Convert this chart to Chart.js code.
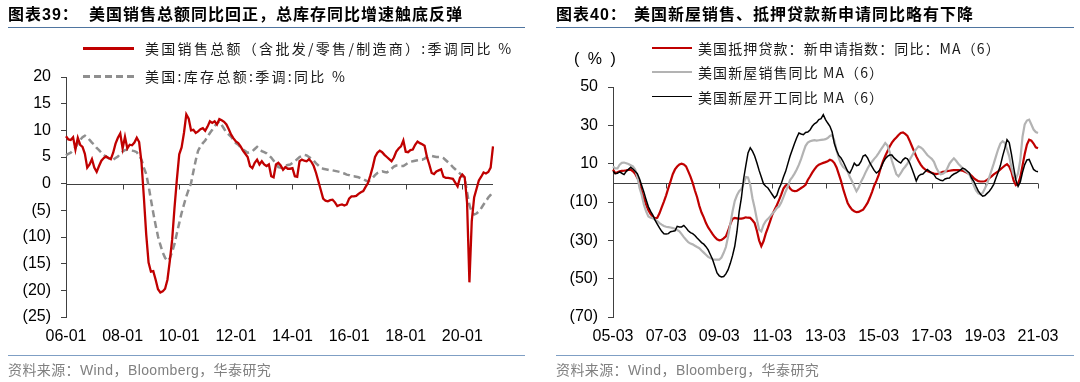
<!DOCTYPE html>
<html><head><meta charset="utf-8">
<script src="https://cdn.jsdelivr.net/npm/chart.js@4.4.0/dist/chart.umd.min.js"></script>
<style>
html,body{margin:0;padding:0;background:#fff;}
#wrap{position:relative;width:1080px;height:382px;overflow:hidden;background:#fff;}
canvas{position:absolute;top:0;}
.t{position:absolute;white-space:nowrap;font-family:"Liberation Sans","Noto Sans CJK SC",sans-serif;}
.title{font-size:16px;font-weight:bold;letter-spacing:1px;line-height:20px;color:#000;}
.rule{position:absolute;height:1px;}
.src{font-size:14px;line-height:18px;color:#808080;letter-spacing:0.4px;}
.lg{font-family:"Noto Sans CJK SC",sans-serif;font-size:14px;line-height:20px;color:#1a1a1a;}
.sw{position:absolute;}
</style></head>
<body><div id="wrap">
<canvas id="c1" width="540" height="382" style="left:0"></canvas>
<canvas id="c2" width="540" height="382" style="left:540px"></canvas>
<div id="overlay"></div>
</div>
<script>
// ---------------- DATA ----------------
const leftTickLabels = ['06-01','08-01','10-01','12-01','14-01','16-01','18-01','20-01'];
const rightTickLabels = ['05-03','07-03','09-03','11-03','13-03','15-03','17-03','19-03','21-03'];

// 美国销售总额（含批发/零售/制造商）:季调同比 %  (monthly, 2006-01 .. 2021-02)
const leftSales = [
 8.9,8.3,8.2,8.7,6.4,8.6,7.3,6.9,5.6,3.0,3.6,4.6,
 3.0,2.2,3.3,4.3,4.8,5.1,4.8,4.6,5.8,7.5,8.6,9.4,
 6.6,8.8,6.6,7.3,7.2,7.7,8.6,7.8,4.0,-2.5,-9.5,-14.8,
 -16.5,-16.4,-18.0,-19.8,-20.4,-20.2,-19.7,-18.0,-14.5,-10.5,-4.5,0.8,
 5.5,6.8,9.5,13.0,12.2,10.0,10.1,9.5,9.8,10.2,10.4,9.9,
 10.7,11.7,11.4,11.7,11.1,12.1,11.9,11.6,11.1,10.2,9.2,8.5,
 7.9,7.6,7.0,6.2,5.6,5.0,3.3,2.9,3.9,4.5,3.6,4.2,
 3.6,3.3,3.6,1.4,1.2,3.6,3.9,3.4,2.6,3.1,2.8,2.8,
 2.9,1.4,1.3,4.2,4.5,4.3,4.2,4.6,4.1,3.3,2.0,0.4,
 -1.2,-2.8,-3.2,-3.3,-3.1,-3.0,-3.5,-4.2,-4.0,-3.9,-4.1,-3.9,
 -2.8,-2.4,-2.4,-2.3,-1.9,-1.6,-1.4,-0.6,0.1,1.5,3.1,5.0,
 5.8,6.2,5.9,5.4,5.0,4.6,4.2,4.9,6.0,6.6,7.0,8.1,
 6.0,5.9,6.3,6.4,7.3,7.9,7.6,7.4,7.1,5.0,3.6,2.0,
 1.8,2.3,2.5,2.7,1.3,1.1,1.1,1.0,0.9,0.2,-0.5,1.1,
 1.7,1.2,-3.5,-18.5,-7.0,-2.6,-1.0,0.6,1.3,2.1,1.9,2.2,
 3.0,7.0
];
// 美国:库存总额:季调:同比 %
const leftInventory = [
 5.3,5.6,5.8,6.3,6.8,7.5,8.2,8.7,9.0,8.7,8.2,7.7,
 7.3,6.7,6.3,5.8,5.4,5.0,4.8,4.6,4.5,4.8,5.1,5.6,
 6.0,6.3,6.4,6.3,6.2,6.1,5.9,5.3,4.5,3.0,1.8,-0.4,
 -3.0,-5.5,-7.8,-9.9,-11.5,-12.9,-13.9,-14.5,-14.0,-12.8,-11.3,-9.3,
 -7.4,-5.5,-3.9,-2.4,-1.1,0.1,2.3,4.4,6.2,7.0,7.6,8.1,
 8.8,9.5,10.1,10.8,11.3,11.7,11.0,10.3,9.6,9.2,8.8,8.2,
 7.6,7.3,6.8,6.4,6.1,5.8,5.9,6.1,6.5,6.9,6.5,6.1,
 5.9,5.7,5.3,4.9,4.3,3.9,3.1,3.0,3.2,3.4,3.5,3.6,
 3.9,4.2,4.6,5.0,5.2,5.4,5.3,5.0,4.7,4.3,3.8,3.4,
 3.0,2.8,2.7,2.6,2.5,2.5,2.4,2.3,2.2,2.0,1.9,1.7,
 1.6,1.4,1.4,1.3,1.2,1.0,0.9,0.6,0.4,0.7,1.1,1.6,
 2.0,2.2,2.3,2.2,2.1,2.4,2.8,3.2,3.4,3.4,3.3,3.3,
 3.6,3.9,4.1,4.2,4.3,4.4,4.5,4.5,4.7,5.0,5.1,5.2,
 5.1,5.0,5.0,5.0,4.8,4.4,4.0,3.6,3.1,2.7,2.3,1.9,
 1.5,1.0,-1.6,-4.0,-5.3,-5.8,-5.6,-5.2,-4.6,-3.9,-3.3,-2.6,
 -2.1,-1.6
];

// Right chart (monthly, 2005-03 .. 2021-03)
const rightMortgage = [
 6.9,5.1,5.5,6.0,6.2,6.3,6.5,6.8,6.9,6.0,4.8,2.5,
 0.8,-4.5,-8.0,-11.5,-14.3,-16.3,-17.6,-18.5,-18.2,-15.9,-12.8,-9.8,
 -6.5,-2.8,0.8,4.5,7.0,8.5,9.6,10.0,9.6,8.6,6.0,3.2,
 0.0,-4.0,-7.5,-12.0,-15.5,-18.0,-21.0,-23.3,-25.0,-26.8,-28.3,-29.5,
 -30.0,-29.8,-29.0,-27.9,-25.0,-21.5,-18.8,-18.3,-18.5,-18.7,-18.7,-18.4,
 -18.0,-18.2,-18.3,-19.5,-21.0,-25.0,-30.0,-33.0,-30.5,-26.5,-23.4,-20.0,
 -16.5,-14.0,-11.7,-9.0,-6.2,-3.0,-1.4,-1.0,-3.0,-4.0,-4.3,-4.2,
 -3.5,-2.7,-2.0,-1.0,1.5,3.3,5.3,7.0,8.5,9.5,10.0,10.4,
 10.8,11.3,12.0,11.6,10.3,8.0,4.5,1.0,-3.3,-7.0,-10.5,-12.5,
 -14.0,-14.8,-15.3,-15.2,-14.6,-14.0,-12.3,-10.5,-7.8,-4.8,-1.5,1.0,
 4.0,8.0,11.3,14.0,16.5,19.0,21.0,22.5,23.7,25.0,26.0,26.3,
 25.5,24.5,22.0,19.2,16.5,13.8,11.5,9.5,8.0,7.0,6.2,5.7,
 5.3,4.9,4.6,4.9,5.3,5.7,5.9,6.1,6.3,6.5,6.6,6.7,
 6.6,6.5,6.3,5.8,5.2,4.6,3.6,2.5,1.6,0.9,0.7,0.7,
 0.8,1.5,2.4,3.4,4.4,5.2,6.0,7.0,8.0,9.0,9.7,8.5,
 5.8,1.2,-1.2,-0.5,3.0,9.0,15.0,20.0,22.5,22.0,20.5,18.5,18.0
];
const rightNewHomeSales = [
 8.6,7.5,7.5,9.5,10.4,10.6,10.2,9.8,9.2,8.6,7.0,3.0,
 -2.7,-6.5,-11.5,-15.0,-17.5,-18.2,-18.5,-19.2,-20.0,-21.0,-21.8,-22.5,
 -22.9,-23.1,-23.3,-23.6,-24.0,-24.6,-25.3,-26.8,-28.3,-29.7,-31.0,-31.7,
 -32.1,-32.8,-33.5,-34.1,-35.3,-36.4,-37.5,-38.6,-39.3,-39.9,-40.1,-40.1,
 -40.1,-39.0,-36.5,-33.5,-28.0,-21.5,-15.0,-9.5,-6.5,-4.4,-3.2,-0.5,
 3.0,2.8,-1.0,-8.0,-13.1,-19.0,-24.4,-25.3,-22.0,-20.0,-18.8,-17.5,
 -16.0,-14.9,-13.2,-12.3,-10.3,-7.5,-4.5,-1.8,1.5,3.0,4.8,7.0,
 9.5,12.5,16.0,19.3,21.0,21.7,22.0,22.3,22.0,22.2,22.4,22.5,
 22.8,23.4,24.5,25.0,22.0,17.0,13.0,10.0,8.2,7.2,6.0,3.0,
 0.8,-2.0,-4.4,-2.5,0.5,2.6,5.2,7.5,9.5,11.0,12.5,13.8,
 15.5,17.3,19.0,20.8,19.5,16.0,11.5,8.0,4.5,3.4,5.0,7.0,
 8.4,10.0,12.0,14.0,16.0,17.6,19.0,18.5,17.5,16.0,14.5,13.5,
 12.5,11.0,8.0,5.8,4.5,4.8,5.5,7.5,10.0,11.5,12.8,11.5,
 10.0,8.8,7.5,6.5,5.5,4.4,2.0,-1.5,-4.0,-5.5,-6.0,-5.3,
 -3.0,-0.5,3.0,6.5,10.0,13.8,17.5,20.5,21.7,20.8,17.5,13.8,
 8.0,4.0,2.0,5.0,12.0,24.0,30.5,32.5,33.0,30.4,27.8,26.5,26.0
];
const rightHousingStarts = [
 6.0,4.8,5.0,5.7,5.0,4.3,6.0,7.0,8.1,7.2,6.0,4.8,
 2.0,-1.5,-5.0,-9.0,-12.5,-14.9,-16.8,-19.5,-21.5,-23.5,-25.3,-26.6,
 -26.7,-26.5,-25.5,-25.3,-25.0,-22.7,-23.0,-23.0,-22.2,-23.5,-25.0,-26.0,
 -26.5,-27.5,-28.8,-30.0,-31.2,-32.0,-33.3,-35.0,-37.5,-40.0,-43.5,-47.0,
 -48.5,-49.1,-48.9,-47.5,-45.3,-42.0,-38.0,-33.1,-25.5,-15.0,-7.9,2.0,
 9.0,15.6,18.3,16.5,14.0,10.5,6.5,3.0,-0.5,-1.8,-2.7,-4.5,
 -6.2,-7.9,-6.5,-3.0,-0.5,3.0,6.0,10.0,14.0,17.3,20.5,23.5,
 26.0,25.5,25.1,26.3,26.5,27.5,29.5,30.8,31.5,33.0,33.5,35.6,
 33.0,31.2,29.5,26.5,20.5,17.0,14.3,13.0,11.0,8.5,6.0,5.1,
 7.5,10.3,9.0,9.3,11.0,14.0,14.5,13.0,10.5,8.5,6.5,5.1,
 6.0,7.7,10.5,12.5,13.8,14.5,14.5,13.0,12.0,11.0,10.3,12.0,
 13.0,12.5,10.5,7.5,4.3,1.0,3.5,4.4,4.6,5.8,6.9,6.0,
 5.0,4.3,2.5,1.9,1.3,1.1,2.0,2.4,2.5,3.8,4.6,5.1,
 5.8,6.8,7.7,7.2,6.2,5.1,2.5,0.8,-1.8,-4.2,-5.8,-7.0,
 -6.6,-5.5,-4.4,-2.8,-0.8,2.5,5.5,9.0,13.8,18.0,22.5,21.0,
 15.0,8.0,1.5,-1.8,0.5,5.5,9.5,12.0,12.2,9.6,7.0,6.1,5.8
];

const leftNames = ['美国销售总额（含批发/零售/制造商）:季调同比 %','美国:库存总额:季调:同比 %'];
const rightNames = ['美国抵押贷款：新申请指数：同比：MA（6）','美国新屋销售同比 MA（6）','美国新屋开工同比 MA（6）'];

function monthLabels(y0, m0, n){
  const out=[];
  for(let i=0;i<n;i++){
    const t=y0*12+(m0-1)+i;
    const y=Math.floor(t/12)%100, m=t%12+1;
    out.push(String(y).padStart(2,'0')+'-'+String(m).padStart(2,'0'));
  }
  return out;
}
const leftCategories = monthLabels(2006,1,leftSales.length);
const rightCategories = monthLabels(2005,3,rightMortgage.length);

// ---------------- STYLE / CHARTS ----------------
Chart.defaults.font.family = "'Liberation Sans', Arial, sans-serif";
Chart.defaults.color = '#000';

const zeroAxisPlugin = {
  id:'zeroAxis',
  beforeDatasetsDraw(chart, args, opts){
    const {ctx, chartArea, scales:{x,y}} = chart;
    const y0 = Math.round(y.getPixelForValue(0)) + 0.5;
    ctx.save();
    ctx.strokeStyle = '#404040'; ctx.lineWidth = 1;
    ctx.beginPath();
    ctx.moveTo(chartArea.left, y0); ctx.lineTo(chartArea.right, y0);
    chart.data.labels.forEach((l,i)=>{
      if(opts.ticks.includes(l)){
        const px = Math.round(x.getPixelForValue(i)) + 0.5;
        ctx.moveTo(px, y0); ctx.lineTo(px, y0+5);
      }
    });
    ctx.stroke();
    ctx.restore();
  }
};

function makeChart(id, labels, datasets, yMin, yMax, yStep, tickLabels, yAxisW, pad){
  return new Chart(document.getElementById(id), {
    type:'line',
    data:{labels, datasets},
    plugins:[zeroAxisPlugin],
    options:{
      responsive:false, animation:false,
      layout:{padding:pad},
      elements:{point:{radius:0}, line:{tension:0}},
      plugins:{legend:{display:false}, tooltip:{enabled:false}, zeroAxis:{ticks:tickLabels}},
      scales:{
        x:{
          ticks:{autoSkip:false, maxRotation:0, minRotation:0, padding:10, font:{size:16}, color:'#000',
            callback(v){ const l=this.getLabelForValue(v); return tickLabels.includes(l)?l:null; }},
          grid:{display:false, drawTicks:false}, border:{display:false},
          afterFit(s){ s.height = 65; }
        },
        y:{
          min:yMin, max:yMax,
          ticks:{stepSize:yStep, padding:10, font:{size:16}, color:'#000',
            callback:v=> v<0 ? '('+(-v)+')' : String(v)},
          grid:{drawOnChartArea:false, drawTicks:true, tickLength:5, tickColor:'#404040', color:'#404040'},
          border:{display:true, color:'#404040', width:1},
          afterFit(s){ s.width = yAxisW; }
        }
      }
    }
  });
}

const leftColors = ['#c00000','#8f8f8f'];
const rightColors = ['#c00000','#b3b3b3','#000000'];

makeChart('c1', leftCategories, [
  {label:leftNames[0], data:leftSales, borderColor:leftColors[0], borderWidth:2.3, order:1},
  {label:leftNames[1], data:leftInventory, borderColor:leftColors[1], borderWidth:2.5, borderDash:[7,4], order:2}
], -25, 20, 5, leftTickLabels, 66, {top:77, right:47, left:0, bottom:0});

makeChart('c2', rightCategories, [
  {label:rightNames[0], data:rightMortgage, borderColor:rightColors[0], borderWidth:2.2, order:3},
  {label:rightNames[1], data:rightNewHomeSales, borderColor:rightColors[1], borderWidth:2.2, order:2},
  {label:rightNames[2], data:rightHousingStarts, borderColor:rightColors[2], borderWidth:1.5, order:1}
], -70, 50, 20, rightTickLabels, 73, {top:87, right:42, left:0, bottom:0});

// ---------------- TEXT OVERLAY ----------------
const ov = document.getElementById('overlay');
function add(html){ ov.insertAdjacentHTML('beforeend', html); }
// titles
add('<div class="t title" style="left:8px;top:5px">图表39：</div>');
add('<div class="t title" style="left:89px;top:5px">美国销售总额同比回正，总库存同比增速触底反弹</div>');
add('<div class="t title" style="left:556px;top:5px">图表40：</div>');
add('<div class="t title" style="left:634px;top:5px">美国新屋销售、抵押贷款新申请同比略有下降</div>');
add('<div class="rule" style="left:8px;top:27px;width:517px;background:#4f75a0"></div>');
add('<div class="rule" style="left:556px;top:27px;width:518px;background:#4f75a0"></div>');
add('<div class="rule" style="left:8px;top:355px;width:517px;background:#7f9fc4"></div>');
add('<div class="rule" style="left:556px;top:355px;width:518px;background:#7f9fc4"></div>');
add('<div class="t src" style="left:8px;top:361px">资料来源：Wind，Bloomberg，华泰研究</div>');
add('<div class="t src" style="left:556px;top:361px">资料来源：Wind，Bloomberg，华泰研究</div>');
// left legend
add('<div class="sw" style="left:83px;top:47px;width:51px;height:2.5px;background:'+leftColors[0]+'"></div>');
add('<div class="t lg" style="left:145px;top:38px;letter-spacing:2.3px">'+leftNames[0]+'</div>');
add('<div class="sw" style="left:83px;top:75px;width:53px;height:2.5px;background:repeating-linear-gradient(to right,'+leftColors[1]+' 0 7px,transparent 7px 11px)"></div>');
add('<div class="t lg" style="left:145px;top:66px;letter-spacing:2.3px">'+leftNames[1]+'</div>');
// right legend
const rowsY = [48,72,96.5];
rightNames.forEach((n,i)=>{
  const h = i===2 ? 1.5 : 2.5;
  add('<div class="sw" style="left:652px;top:'+(rowsY[i]-h/2)+'px;width:40px;height:'+h+'px;background:'+rightColors[i]+'"></div>');
  add('<div class="t lg" style="left:698px;top:'+(rowsY[i]-10)+'px;letter-spacing:1.1px">'+n+'</div>');
});
add('<div class="t" style="left:574px;top:49px;font-size:16px;line-height:20px;letter-spacing:2px;color:#000">( % )</div>');
</script>
</body></html>
